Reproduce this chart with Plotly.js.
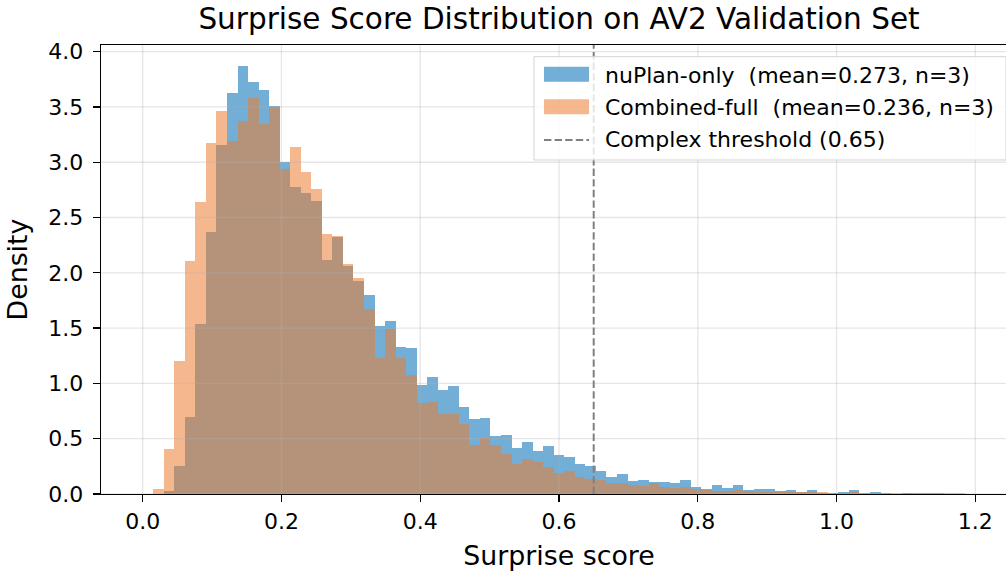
<!DOCTYPE html>
<html>
<head>
<meta charset="utf-8">
<script src="https://cdn.plot.ly/plotly-3.0.1.min.js"></script>
<style>
html, body { margin: 0; padding: 0; overflow: hidden; background: #ffffff; width: 1006px; height: 573px; }
#chart { width: 1017px; height: 573px; }
</style>
</head>
<body>
<div id="chart"></div>
<script>
// ---- Data ----
const binLow = 0.0;
const binHigh = 1.2;
const nBins = 79;

const seriesNames = [
  "nuPlan-only \u00a0(mean=0.273, n=3)",
  "Combined-full \u00a0(mean=0.236, n=3)"
];
const thresholdLabel = "Complex threshold (0.65)";
const threshold = 0.65;

// density per bin, nuPlan-only
const nuplanDensity = [
  0, 0, 0.024, 0.25, 0.70, 1.54, 2.37, 3.16, 3.63, 3.87,
  3.73, 3.65, 3.51, 3.00, 2.78, 2.72, 2.65, 2.12, 2.32, 2.06,
  1.93, 1.80, 1.52, 1.56, 1.33, 1.32, 0.99, 1.06, 0.94, 0.98,
  0.79, 0.68, 0.69, 0.52, 0.53, 0.42, 0.47, 0.39, 0.43, 0.35,
  0.335, 0.27, 0.25, 0.21, 0.154, 0.18, 0.118, 0.127, 0.109, 0.109,
  0.10, 0.127, 0.063, 0.045, 0.082, 0.054, 0.082, 0.036, 0.045, 0.045,
  0.027, 0.036, 0.02, 0.036, 0.009, 0.009, 0.018, 0.036, 0.009, 0.018,
  0.009, 0, 0.009, 0.005, 0.005, 0.005, 0.004, 0.004, 0
];

// density per bin, Combined-full
const combinedDensity = [
  0, 0.045, 0.41, 1.20, 2.11, 2.64, 3.17, 3.46, 3.19, 3.37,
  3.58, 3.35, 3.50, 2.94, 3.14, 2.91, 2.76, 2.35, 2.33, 2.08,
  1.95, 1.67, 1.23, 1.49, 1.23, 1.08, 0.82, 0.83, 0.72, 0.72,
  0.63, 0.44, 0.51, 0.44, 0.36, 0.27, 0.32, 0.29, 0.245, 0.19,
  0.21, 0.155, 0.135, 0.127, 0.10, 0.10, 0.082, 0.073, 0.10, 0.063,
  0.054, 0.063, 0.045, 0.036, 0.027, 0.027, 0.036, 0.027, 0.018, 0.018,
  0.018, 0.018, 0.015, 0.018, 0.018, 0.009, 0.009, 0.018, 0.004, 0.009,
  0.009, 0.005, 0.005, 0.003, 0.003, 0.003, 0.009, 0.009, 0
];

const xTicks = [0.0, 0.2, 0.4, 0.6, 0.8, 1.0, 1.2];
const yTicks = [0.0, 0.5, 1.0, 1.5, 2.0, 2.5, 3.0, 3.5, 4.0];

// ---- Styles ----
const FONT = "DejaVu Sans, Liberation Sans, sans-serif";
const blueFill = "rgba(38,130,190,0.65)";
const orangeFill = "rgba(237,125,49,0.55)";
const gridColor = "rgba(176,176,176,0.32)";
const threshColor = "#808080";

const binWidth = (binHigh - binLow) / nBins;
const binCenters = nuplanDensity.map((_, i) => binLow + (i + 0.5) * binWidth);

const traces = [
  {
    type: "bar", x: binCenters, y: nuplanDensity, width: binWidth,
    marker: { color: blueFill, line: { width: 0 } },
    name: seriesNames[0], showlegend: false, hoverinfo: "skip"
  },
  {
    type: "bar", x: binCenters, y: combinedDensity, width: binWidth,
    marker: { color: orangeFill, line: { width: 0 } },
    name: seriesNames[1], showlegend: false, hoverinfo: "skip"
  }
];

const shapes = [];
// grid drawn above the bars (like matplotlib)
xTicks.forEach(v => shapes.push({
  type: "line", xref: "x", yref: "paper", x0: v, x1: v, y0: 0, y1: 1,
  line: { color: gridColor, width: 1.3 }, layer: "above"
}));
yTicks.forEach(v => shapes.push({
  type: "line", xref: "paper", yref: "y", x0: 0, x1: 1, y0: v, y1: v,
  line: { color: gridColor, width: 1.3 }, layer: "above"
}));
// threshold line
shapes.push({
  type: "line", xref: "x", yref: "paper", x0: threshold, x1: threshold, y0: 0, y1: 1,
  line: { color: threshColor, width: 2, dash: "7.4px,3.2px" }, layer: "above"
});
// legend box
const lg = { x0: 0.4727, x1: 0.988, y0: 0.7439, y1: 0.974 };
shapes.push({
  type: "rect", xref: "paper", yref: "paper",
  x0: lg.x0, x1: lg.x1, y0: lg.y0, y1: lg.y1,
  fillcolor: "rgba(255,255,255,0.8)", line: { color: "#d4d4d4", width: 1 }, layer: "above"
});
const patchX0 = 0.4836, patchX1 = 0.5328;
shapes.push({
  type: "rect", xref: "paper", yref: "paper", x0: patchX0, x1: patchX1, y0: 0.9183, y1: 0.9517,
  fillcolor: blueFill, line: { width: 0 }, layer: "above"
});
shapes.push({
  type: "rect", xref: "paper", yref: "paper", x0: patchX0, x1: patchX1, y0: 0.8457, y1: 0.8791,
  fillcolor: orangeFill, line: { width: 0 }, layer: "above"
});
shapes.push({
  type: "line", xref: "paper", yref: "paper", x0: patchX0, x1: patchX1, y0: 0.7884, y1: 0.7884,
  line: { color: threshColor, width: 2, dash: "7.4px,3.2px" }, layer: "above"
});

const legendTexts = [seriesNames[0], seriesNames[1], thresholdLabel];
const legendY = [0.9310, 0.8604, 0.7900];
const annotations = legendTexts.map((t, i) => ({
  xref: "paper", yref: "paper", x: 0.5475, y: legendY[i],
  xanchor: "left", yanchor: "middle", text: t, showarrow: false,
  font: { family: FONT, size: 22, color: "#000000" }
}));

const axisCommon = {
  showline: true, linecolor: "#000000", linewidth: 1.3, mirror: true,
  ticks: "outside", ticklen: 7, tickwidth: 1.3, tickcolor: "#000000",
  showgrid: false, zeroline: false, tickformat: ".1f",
  tickfont: { family: FONT, size: 22, color: "#000000" }
};

const layout = {
  width: 1017, height: 573,
  margin: { l: 101, r: 0, t: 45, b: 79, autoexpand: false },
  paper_bgcolor: "#ffffff", plot_bgcolor: "#ffffff",
  barmode: "overlay", bargap: 0,
  font: { family: FONT, color: "#000000" },
  title: {
    text: "Surprise Score Distribution on AV2 Validation Set",
    font: { family: FONT, size: 29.5, color: "#000000" },
    x: 0.5, xref: "paper", xanchor: "center",
    y: 1 - 19 / 573, yref: "container", yanchor: "middle"
  },
  xaxis: Object.assign({}, axisCommon, {
    range: [-0.06, 1.26], tickvals: xTicks,
    title: { text: "Surprise score", font: { family: FONT, size: 26.8, color: "#000000" }, standoff: 13 },
    automargin: false
  }),
  yaxis: Object.assign({}, axisCommon, {
    range: [0, 4.06], tickvals: yTicks, ticklabelstandoff: 5,
    title: { text: "Density", font: { family: FONT, size: 26.8, color: "#000000" }, standoff: 13 },
    automargin: false
  }),
  shapes: shapes,
  annotations: annotations,
  showlegend: false
};

Plotly.newPlot("chart", traces, layout, { staticPlot: true, displayModeBar: false });
</script>
</body>
</html>
